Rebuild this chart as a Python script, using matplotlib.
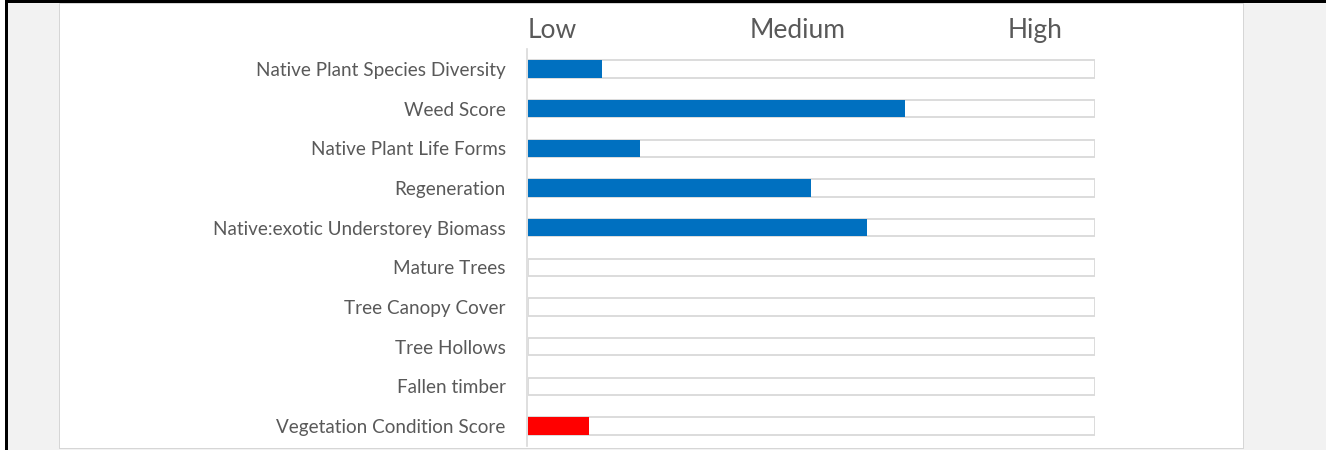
import matplotlib.pyplot as plt
from matplotlib.patches import Rectangle

# Puntuacions de l'estat de la vegetació (escala 0-100)
categories = [
    'Native Plant Species Diversity',
    'Weed Score',
    'Native Plant Life Forms',
    'Regeneration',
    'Native:exotic Understorey Biomass',
    'Mature Trees',
    'Tree Canopy Cover',
    'Tree Hollows',
    'Fallen timber',
    'Vegetation Condition Score',
]
scores = [13, 66.5, 19.8, 49.9, 59.8, 0, 0, 0, 0, 10.8]
bar_colors = ['#0070c0'] * 9 + ['#ff0000']
levels = ['Low', 'Medium', 'High']
level_pos = [4.2, 47.6, 89.4]
max_score = 100

plt.rcParams['font.family'] = ['Lato', 'DejaVu Sans']

W, H = 1326, 450
fig = plt.figure(figsize=(W / 100, H / 100), dpi=100)
fig.patch.set_facecolor('white')

# Marc de la pàgina (fons gris, vores)
def px_rect(x0, y0, x1, y1, color):
    fig.patches.append(Rectangle((x0 / W, 1 - y1 / H), (x1 - x0) / W, (y1 - y0) / H,
                                 transform=fig.transFigure, color=color, lw=0, zorder=-5))

px_rect(8, 0, W, H, '#f2f2f2')
px_rect(59, 3, 1244, 449, '#d6d6d6')
px_rect(60, 3.5, 1243, 448, 'white')
px_rect(5, 0, 8, H, 'black')
px_rect(5, 0, W, 3, 'black')

# Eixos de les barres
row = 39.7
top_px, bot_px = 69 - row / 2, 426 + row / 2
ax = fig.add_axes([528 / W, 1 - bot_px / H, 567 / W, (bot_px - top_px) / H])
ax.set_facecolor('none')
ax.set_zorder(2)

y = range(len(categories))
ax.barh(y, [max_score] * len(categories), height=0.43, color='white',
        edgecolor='#d9d9d9', linewidth=1.3, zorder=1)
ax.barh(y, scores, height=0.43, color=bar_colors, linewidth=0, zorder=2)

ax.set_xlim(0, max_score)
ax.set_ylim(len(categories) - 0.5, -0.5)
ax.set_xticks([])
ax.set_yticks(list(y))
ax.set_yticklabels(categories)
ax.tick_params(axis='y', length=0, pad=15, labelcolor='#595959', labelsize=13.6)
for side in ['top', 'right', 'bottom']:
    ax.spines[side].set_visible(False)
ax.spines['left'].set_color('#d9d9d9')
ax.spines['left'].set_linewidth(1.2)
ax.spines['left'].set_position(('outward', 1))

# Capçalera Low / Medium / High
for lab, xp in zip(levels, level_pos):
    ax.text(xp, -0.98, lab, ha='center', va='center', fontsize=19,
            color='#595959', clip_on=False)

plt.savefig('out.png', dpi=100, facecolor=fig.get_facecolor())
